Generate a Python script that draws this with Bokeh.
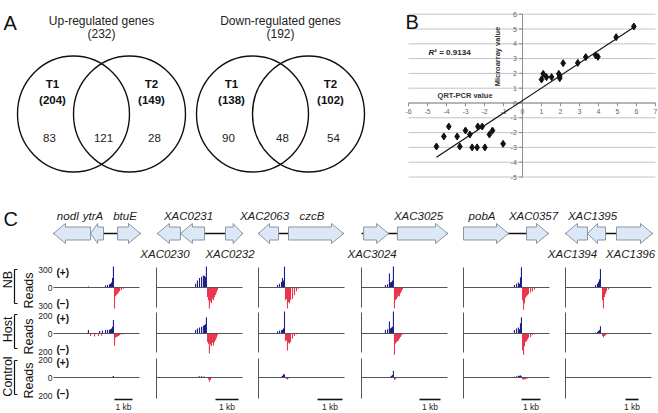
import numpy as np
from bokeh.plotting import figure
from bokeh.models import Range1d
from bokeh.layouts import column, row
from bokeh.embed import file_html
from bokeh.resources import INLINE
from bokeh.core.properties import value

FONT = value("Liberation Sans")

# ---------------- Panel A data ----------------
venn_titles = ["Up-regulated genes", "Down-regulated genes"]
venn_totals = [232, 192]
venn_t1_totals = [204, 138]
venn_t2_totals = [149, 102]
venn_t1_only = [83, 90]
venn_shared = [121, 48]
venn_t2_only = [28, 54]

# ---------------- Panel B data ----------------
qrt_pcr_values = [5.86, 4.93, 3.85, 3.97, 3.33, 2.91, 2.14, 1.91, 1.96, 1.96, 1.09, 1.26, 1.53, 1.00,
                  -1.02, -1.58, -1.74, -2.12, -2.35, -1.98, -2.39, -2.65, -2.77, -3.00, -3.30, -3.44,
                  -3.88, -4.14, -4.53]
microarray_values = [5.17, 4.45, 3.22, 3.12, 3.10, 2.71, 2.69, 1.97, 1.68, 1.82, 1.97, 1.75, 1.75, 1.59,
                     -2.76, -1.86, -2.13, -1.59, -1.59, -3.00, -3.00, -3.00, -2.13, -1.86, -2.94, -2.26,
                     -1.59, -2.26, -2.94]
r2_value = "0.9134"
b_x_ticks = list(range(-6, 8))
b_y_ticks = list(range(-5, 7))

# ---------------- Panel C data ----------------
conditions = ["NB", "Host", "Control"]
condition_max = [300, 200, 200]

genes = [
    [("nodI", 0.00, 2.06, -1, "above"), ("ytrA", 2.06, 2.78, -1, "above"), ("btuE", 3.56, 4.83, 1, "above")],
    [("XAC0230", 0.04, 1.04, -1, "below"), ("XAC0231", 1.04, 2.09, -1, "above"), ("XAC0232", 3.00, 3.74, 1, "below")],
    [("XAC2063", 0.00, 0.80, -1, "above"), ("czcB", 1.20, 3.40, 1, "above")],
    [("XAC3024", 0.10, 1.29, 1, "below"), ("XAC3025", 1.71, 4.10, 1, "above")],
    [("pobA", 0.00, 2.37, 1, "above"), ("XAC0357", 3.32, 4.47, 1, "above")],
    [("XAC1394", 0.00, 1.69, -1, "below"), ("XAC1395", 1.69, 3.08, -1, "above"), ("XAC1396", 3.92, 6.69, 1, "below")],
]
locus_span = [(0.0, 4.83), (0.04, 3.74), (0.0, 3.40), (0.0, 4.10), (0.0, 4.47), (0.0, 6.69)]

# read bins (kb from locus start) and read counts, (+) strand
plus_kb = [
    [1.94, 2.56, 2.72, 2.89, 3.00, 3.11, 3.17, 3.22, 3.28, 3.33],
    [1.70, 1.78, 1.87, 1.96, 2.04, 2.09, 2.13, 2.17],
    [0.76, 0.84, 0.92, 0.96, 1.00, 1.04],
    [1.14, 1.24, 1.33, 1.38, 1.43, 1.48, 1.52],
    [2.68, 2.79, 2.89, 2.95, 3.00, 3.05],
    [2.31, 2.46, 2.54, 2.62, 2.69],
]
nb_plus = [
    [15, 5, 5, 30, 40, 50, 60, 80, 150, 330],
    [60, 110, 150, 170, 190, 180, 160, 330],
    [40, 60, 90, 150, 110, 330],
    [40, 50, 220, 80, 90, 110, 330],
    [40, 60, 80, 60, 160, 320],
    [40, 60, 90, 130, 290],
]
host_plus = [
    [40, 30, 35, 40, 45, 45, 50, 60, 80, 160],
    [40, 60, 70, 80, 90, 100, 110, 190],
    [25, 35, 40, 45, 60, 260],
    [40, 50, 140, 60, 70, 80, 260],
    [40, 60, 70, 50, 120, 190],
    [10, 20, 30, 40, 85],
]
ctrl_plus = [
    [0, 0, 0, 0, 0, 0, 0, 5, 10, 18],
    [5, 10, 15, 15, 10, 10, 5, 0],
    [0, 0, 10, 20, 40, 35],
    [0, 0, 0, 10, 20, 30, 80],
    [10, 15, 20, 20, 25, 15],
    [0, 0, 0, 5, 5],
]
# (-) strand
minus_kb = [
    [2.06, 2.28, 2.50, 2.67, 3.39, 3.44, 3.50, 3.56, 3.61, 3.67, 3.78, 3.89],
    [2.22, 2.26, 2.30, 2.35, 2.39, 2.43, 2.48, 2.52, 2.57, 2.61, 2.65],
    [1.08, 1.12, 1.16, 1.20, 1.24, 1.28, 1.36, 1.44, 1.52, 1.60],
    [1.57, 1.62, 1.67, 1.71, 1.76, 1.81, 1.86, 1.90, 1.95],
    [3.11, 3.16, 3.21, 3.26, 3.32, 3.37, 3.42, 3.53, 3.63, 3.74],
    [2.85, 2.92, 3.00, 3.08, 3.15, 3.31],
]
nb_minus = [
    [0, 0, 0, 0, 330, 140, 120, 100, 80, 60, 40, 20],
    [150, 200, 330, 220, 250, 180, 200, 150, 120, 80, 40],
    [200, 180, 330, 230, 250, 200, 180, 120, 60, 20],
    [330, 200, 180, 150, 130, 140, 90, 60, 30],
    [200, 350, 250, 160, 140, 120, 100, 80, 60, 30],
    [200, 330, 150, 100, 60, 30],
]
host_minus = [
    [30, 35, 30, 25, 145, 50, 40, 35, 30, 20, 15, 10],
    [100, 120, 235, 130, 150, 110, 140, 100, 80, 50, 20],
    [90, 80, 200, 110, 120, 100, 60, 30, 10, 5],
    [250, 120, 100, 90, 80, 60, 40, 20, 10],
    [200, 250, 150, 100, 90, 70, 50, 40, 20, 10],
    [30, 45, 30, 20, 10, 5],
]
ctrl_minus = [
    [0, 0, 0, 0, 5, 0, 0, 0, 0, 0, 0, 0],
    [0, 20, 50, 30, 0, 0, 0, 0, 0, 0, 0],
    [10, 15, 25, 10, 0, 0, 0, 0, 0, 0],
    [30, 20, 10, 0, 0, 0, 0, 0, 0],
    [20, 25, 20, 20, 15, 10, 5, 0, 0, 0],
    [0, 0, 0, 0, 0, 0],
]
plus_reads = [nb_plus, host_plus, ctrl_plus]
minus_reads = [nb_minus, host_minus, ctrl_minus]


def blank(p):
    p.outline_line_color = None
    p.background_fill_color = "white"
    p.border_fill_color = "white"
    p.grid.visible = False
    return p


TOP_H = 202
W_A = 404
W_TOTAL = 658
H_TOTAL = 413

# ================= Panel A =================
pA = blank(figure(width=W_A, height=TOP_H, x_range=Range1d(0, W_A), y_range=Range1d(TOP_H, 0),
                  x_axis_location=None, y_axis_location=None, min_border=0,
                  output_backend="svg", toolbar_location=None))
pA.text(x=[3], y=[22], text=["A"], text_font=FONT, text_font_size="20px",
        text_baseline="alphabetic", text_align="left", text_color="#111111")
venn_cx = [101, 280]
for i in range(2):
    cx = venn_cx[i]
    pA.ellipse(x=[cx - 28, cx + 28], y=[113.5, 113.5], width=112, height=116,
               fill_color=None, line_color="#111111", line_width=1.4)
    pA.text(x=[cx, cx], y=[20, 33], text=[venn_titles[i], f"({venn_totals[i]})"],
            text_font=FONT, text_font_size="12px", text_align="center",
            text_baseline="middle", text_color="#222222")
    pA.text(x=[cx - 49, cx - 49, cx + 50, cx + 50], y=[83, 99, 83, 99],
            text=["T1", f"({venn_t1_totals[i]})", "T2", f"({venn_t2_totals[i]})"],
            text_font=FONT, text_font_size="11.5px", text_font_style="bold",
            text_align="center", text_baseline="middle", text_color="#111111")
    pA.text(x=[cx - 52, cx + 2, cx + 53], y=[137, 137, 137],
            text=[str(venn_t1_only[i]), str(venn_shared[i]), str(venn_t2_only[i])],
            text_font=FONT, text_font_size="11.5px", text_align="center",
            text_baseline="middle", text_color="#222222")

# ================= Panel B =================
# 19 px per unit in x (x=0 at 522 px), 14.8 px per unit in y (y=0 at 102.5 px)
W_B = W_TOTAL - W_A
bx0 = (W_A - 522) / 19.0
bx1 = (W_TOTAL - 522) / 19.0
by1 = 102.5 / 14.8
by0 = (102.5 - TOP_H) / 14.8
pB = blank(figure(width=W_B, height=TOP_H, x_range=Range1d(bx0, bx1), y_range=Range1d(by0, by1),
                  x_axis_location=None, y_axis_location=None, min_border=0,
                  output_backend="svg", toolbar_location=None))
gx0, gx1 = b_x_ticks[0], b_x_ticks[-1]
pB.segment(x0=[gx0] * len(b_y_ticks), x1=[gx1] * len(b_y_ticks), y0=b_y_ticks, y1=b_y_ticks,
           line_color="#c4c4c4", line_width=1)
pB.segment(x0=[gx0], x1=[gx1], y0=[0], y1=[0], line_color="#8c8c8c", line_width=1)
pB.segment(x0=[0], x1=[0], y0=[b_y_ticks[0]], y1=[b_y_ticks[-1]], line_color="#8c8c8c", line_width=1)
pB.segment(x0=[-0.18] * len(b_y_ticks), x1=[0] * len(b_y_ticks), y0=b_y_ticks, y1=b_y_ticks,
           line_color="#8c8c8c", line_width=1)
pB.segment(x0=b_x_ticks, x1=b_x_ticks, y0=[0] * len(b_x_ticks), y1=[-0.22] * len(b_x_ticks),
           line_color="#8c8c8c", line_width=1)
pB.text(x=[-0.3] * len(b_y_ticks), y=b_y_ticks, text=[str(v) for v in b_y_ticks],
        text_font=FONT, text_font_size="7px", text_align="right", text_baseline="middle",
        text_color="#666666")
pB.text(x=b_x_ticks, y=[-0.55] * len(b_x_ticks), text=[str(v) for v in b_x_ticks],
        text_font=FONT, text_font_size="7px", text_align="center", text_baseline="middle",
        text_color="#666666")
slope, intercept = np.polyfit(qrt_pcr_values, microarray_values, 1)
lx = np.array([min(qrt_pcr_values), max(qrt_pcr_values)])
pB.line(lx, slope * lx + intercept, line_color="#111111", line_width=1.2)
pB.scatter(qrt_pcr_values, microarray_values, marker="diamond", size=7,
           fill_color="#111111", line_color="#111111")
pB.text(x=[-4.95], y=[3.4], text=["R"], text_font=FONT, text_font_size="8px",
        text_font_style="bold italic", text_align="left", text_baseline="middle", text_color="#222222")
pB.text(x=[-4.64], y=[3.4], text=["\u00b2 = " + r2_value], text_font=FONT, text_font_size="8px",
        text_font_style="bold", text_align="left", text_baseline="middle", text_color="#222222")
pB.text(x=[-4.47], y=[0.5], text=["QRT-PCR value"], text_font=FONT, text_font_size="7.5px",
        text_font_style="bold", text_align="left", text_baseline="middle", text_color="#333333")
pB.text(x=[-1.32], y=[3.14], text=["Microarray value"], angle=np.pi / 2, text_font=FONT,
        text_font_size="7.5px", text_font_style="bold", text_align="center",
        text_baseline="middle", text_color="#333333")
pB.text(x=[-6.16], y=[5.44], text=["B"], text_font=FONT, text_font_size="20px",
        text_align="left", text_baseline="alphabetic", text_color="#111111")

# ================= Panel C =================
H_C = H_TOTAL - TOP_H
pC = blank(figure(width=W_TOTAL, height=H_C, x_range=Range1d(0, W_TOTAL), y_range=Range1d(H_TOTAL, TOP_H),
                  x_axis_location=None, y_axis_location=None, min_border=0,
                  output_backend="svg", toolbar_location=None))
pC.text(x=[3], y=[218], text=["C"], text_font=FONT, text_font_size="20px",
        text_align="left", text_baseline="alphabetic", text_color="#111111")

col_x0 = [53, 156, 258, 361, 463, 565]
col_px_per_kb = [18, 23, 25, 21, 19, 13]
col_width = 86
bar_end = [79, 82, 84, 79, 77, 73]
gene_y = 233
row_zero = [287, 333, 377]
row_half = [19, 17, 17]
row_axis = [(267, 307), (312, 352), (358, 398)]
label_center = [279, 329, 376]
BLUE = "#1c1c8e"
RED = "#e8203c"

for ri, cond in enumerate(conditions):
    z = row_zero[ri]
    top, bot = row_axis[ri]
    pC.text(x=[7], y=[label_center[ri]], text=[cond], angle=np.pi / 2, text_font=FONT,
            text_font_size="12.5px", text_align="center", text_baseline="middle", text_color="#111111")
    pC.segment(x0=[14, 14, 14], x1=[14, 17, 17], y0=[top + 2, top + 2, bot - 4],
               y1=[bot - 4, top + 2, bot - 4], line_color="#111111", line_width=1.2)
    pC.text(x=[28], y=[z + 3], text=["Reads"], angle=np.pi / 2, text_font=FONT,
            text_font_size="12.5px", text_align="center", text_baseline="middle", text_color="#111111")
    m = condition_max[ri]
    pC.text(x=[52, 52, 52], y=[z - 18, z, z + 18], text=[str(m), "0", str(m)], text_font=FONT,
            text_font_size="8.5px", text_align="right", text_baseline="middle", text_color="#222222")
    pC.text(x=[56, 56], y=[z - 15, z + 16], text=["(+)", "(\u2212)"], text_font=FONT,
            text_font_size="10px", text_font_style="bold", text_align="left",
            text_baseline="middle", text_color="#111111")

for ci in range(6):
    x0 = col_x0[ci]
    s = col_px_per_kb[ci]
    a, b = locus_span[ci]
    pC.segment(x0=[x0 + s * a], x1=[x0 + s * b], y0=[gene_y], y1=[gene_y],
               line_color="#111111", line_width=1.4)
    xs_all, ys_all = [], []
    for name, g0, g1, strand, side in genes[ci]:
        ga, gb = x0 + s * g0, x0 + s * g1
        hl = min(12.0, 0.55 * (gb - ga))
        bh, hh = 6.5, 10.0
        if strand > 0:
            xs = [ga, gb - hl, gb - hl, gb, gb - hl, gb - hl, ga]
        else:
            xs = [gb, ga + hl, ga + hl, ga, ga + hl, ga + hl, gb]
        ys = [gene_y - bh, gene_y - bh, gene_y - hh, gene_y, gene_y + hh, gene_y + bh, gene_y + bh]
        xs_all.append(xs)
        ys_all.append(ys)
        lx_ = min((ga + gb) / 2 - 4, W_TOTAL - 23)
        ly_ = 215 if side == "above" else 253
        pC.text(x=[lx_], y=[ly_], text=[name], text_font=FONT, text_font_size="11.5px",
                text_font_style="italic", text_align="center", text_baseline="middle",
                text_color="#222222")
    pC.patches(xs_all, ys_all, fill_color="#dce8f5", line_color="#7d8a98", line_width=0.9)

    for ri in range(3):
        z = row_zero[ri]
        k = row_half[ri] / condition_max[ri]
        if ci > 0:
            top, bot = row_axis[ri]
            pC.segment(x0=[x0], x1=[x0], y0=[top], y1=[bot], line_color="#555555", line_width=1)
        px = [x0 + s * v for v in plus_kb[ci]]
        pv = plus_reads[ri][ci]
        pC.vbar(x=px, width=1.1, bottom=[z] * len(px), top=[z - k * v for v in pv],
                fill_color=BLUE, line_color=None)
        mx = [x0 + s * v for v in minus_kb[ci]]
        mv = minus_reads[ri][ci]
        pC.vbar(x=mx, width=1.1, bottom=[z] * len(mx), top=[z + k * v for v in mv],
                fill_color=RED, line_color=None, fill_alpha=0.9)
        pC.segment(x0=[x0], x1=[x0 + col_width], y0=[z], y1=[z], line_color="#555555", line_width=1)

    be = x0 + bar_end[ci]
    pC.segment(x0=[be - s], x1=[be], y0=[399], y1=[399], line_color="#111111", line_width=1.6)
    pC.text(x=[be - s / 2], y=[406], text=["1 kb"], text_font=FONT, text_font_size="8.5px",
            text_align="center", text_baseline="middle", text_color="#222222")

layout = column(row(pA, pB), pC)
open("out.html", "w").write(file_html(layout, INLINE))
